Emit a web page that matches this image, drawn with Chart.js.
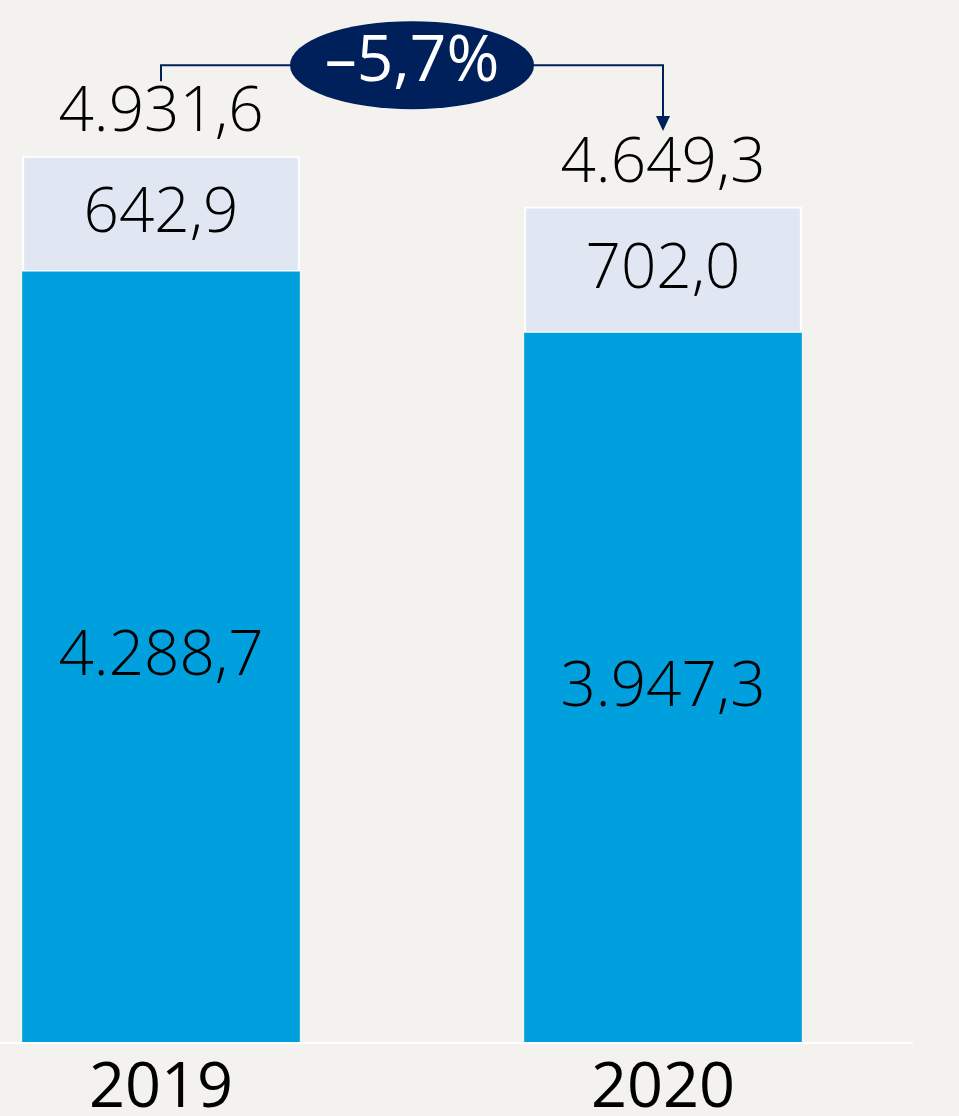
<!DOCTYPE html>
<html>
<head>
<meta charset="utf-8">
<script src="https://cdn.jsdelivr.net/npm/chart.js@4.4.1/dist/chart.umd.min.js"></script>
<style>
  html, body { margin: 0; padding: 0; background: #f3f2ee; }
  #wrap { width: 959px; height: 1116px; position: relative; }
</style>
</head>
<body>
<div id="wrap"><canvas id="chart"></canvas></div>
<script>
// values
const years = ['2019', '2020'];
const baseValues = [4288.7, 3947.3];
const topValues = [642.9, 702.0];
const totals = [4931.6, 4649.3];

const BLUE = '#00a0de';
const LIGHT = '#e0e7f2';
const NAVY = '#00205b';
const LABEL_FONT = '"Open Sans", "Liberation Sans", sans-serif';

const fmt = (v) => {
    const [i, d] = v.toFixed(1).split('.');
    return i.replace(/\B(?=(\d{3})+(?!\d))/g, '.') + ',' + d;
};

const change = (totals[1] / totals[0] - 1) * 100;
const changeText = '\u2013' + Math.abs(change).toFixed(1).replace('.', ',') + '%';

const labelsPlugin = {
    id: 'labels',
    afterDatasetsDraw(chart) {
        const ctx = chart.ctx;
        const y = chart.scales.y;
        const base = chart.getDatasetMeta(0).data;
        const top = chart.getDatasetMeta(1).data;
        const y0 = y.getPixelForValue(0);

        ctx.save();
        // baseline
        ctx.strokeStyle = '#ffffff';
        ctx.lineWidth = 2;
        ctx.beginPath();
        ctx.moveTo(0, y0);
        ctx.lineTo(913, y0);
        ctx.stroke();

        ctx.fillStyle = '#000000';
        ctx.font = '300 62px ' + LABEL_FONT;
        ctx.textAlign = 'center';
        ctx.textBaseline = 'middle';
        base.forEach((bar, i) => {
            ctx.fillText(fmt(baseValues[i]), bar.x, (bar.y + bar.base) / 2);
        });
        top.forEach((bar, i) => {
            ctx.fillText(fmt(topValues[i]), bar.x, (bar.y + bar.base) / 2);
            ctx.fillText(fmt(totals[i]), bar.x, bar.y - 43);
        });

        // change bracket
        const x1 = top[0].x, x2 = top[1].x;
        const yLine = top[0].y - 91;
        const tip = top[1].y - 76;
        ctx.strokeStyle = NAVY;
        ctx.fillStyle = NAVY;
        ctx.lineWidth = 2;
        ctx.beginPath();
        ctx.moveTo(x1, top[0].y - 75);
        ctx.lineTo(x1, yLine);
        ctx.lineTo(x2, yLine);
        ctx.lineTo(x2, tip - 14);
        ctx.stroke();
        ctx.beginPath();
        ctx.moveTo(x2 - 7, tip - 15);
        ctx.lineTo(x2 + 7, tip - 15);
        ctx.lineTo(x2, tip);
        ctx.closePath();
        ctx.fill();

        const cx = (x1 + x2) / 2;
        ctx.beginPath();
        ctx.ellipse(cx, yLine, 122, 44, 0, 0, Math.PI * 2);
        ctx.fill();
        ctx.fillStyle = '#ffffff';
        ctx.font = '500 64px ' + LABEL_FONT;
        ctx.fillText(changeText, cx, yLine - 2);
        ctx.restore();
    }
};

new Chart(document.getElementById('chart'), {
    type: 'bar',
    data: {
        labels: years,
        datasets: [{
            data: baseValues,
            backgroundColor: BLUE,
            borderWidth: 0,
            barThickness: 277,
        }, {
            data: topValues,
            backgroundColor: LIGHT,
            borderColor: '#ffffff',
            borderWidth: 2,
            borderSkipped: false,
            barThickness: 277,
        }]
    },
    options: {
        responsive: true,
        maintainAspectRatio: false,
        animation: false,
        clip: false,
        layout: { padding: { left: 161, right: 296, top: 0, bottom: -19 } },
        plugins: {
            legend: { display: false },
            tooltip: { enabled: false },
        },
        scales: {
            x: {
                stacked: true,
                offset: false,
                grid: { display: false, drawTicks: false },
                border: { display: false },
                ticks: {
                    color: '#000000',
                    padding: 14.5,
                    font: { family: LABEL_FONT, size: 63, lineHeight: 1 },
                },
            },
            y: {
                stacked: true,
                display: false,
                min: 0,
                max: 5800,
            }
        }
    },
    plugins: [labelsPlugin]
});
</script>
</body>
</html>
